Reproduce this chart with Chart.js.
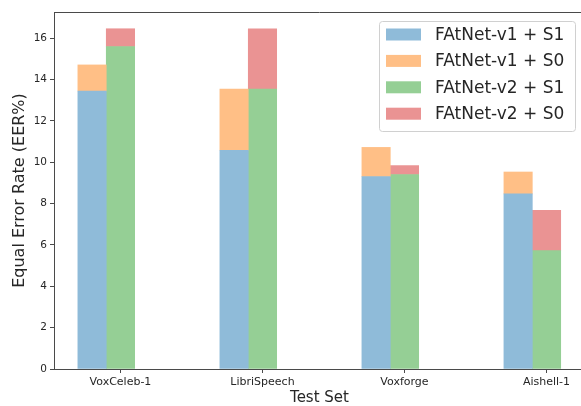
<!DOCTYPE html>
<html>
<head>
<meta charset="utf-8">
<script src="https://cdn.jsdelivr.net/npm/chart.js@4.4.1/dist/chart.umd.min.js"></script>
<style>
  html, body { margin: 0; padding: 0; background: #fff; overflow: hidden; width: 581px; height: 406px; }
  /* the axes run a few pixels past the right edge of the window */
  #wrap { width: 585px; height: 406px; }
</style>
</head>
<body>
<div id="wrap"><canvas id="c"></canvas></div>
<script>
// Test sets on the x axis
const testSets = ['VoxCeleb-1', 'LibriSpeech', 'Voxforge', 'Aishell-1'];
// Equal error rate (%) per model and setup
const eerV1S1 = [13.45, 10.58, 9.31, 8.47];
const eerV1S0 = [14.71, 13.54, 10.72, 9.53];
const eerV2S1 = [15.60, 13.54, 9.41, 5.73];
const eerV2S0 = [16.46, 16.46, 9.84, 7.68];
// y axis tick values
const yTicks = [0, 2, 4, 6, 8, 10, 12, 14, 16];

const FONT = 'DejaVu Sans';
const TEXT = '#262626';
const SPINE = '#4a4a4a';

// half-transparent tab10 colours flattened onto white
const C_V1S1 = '#8fbbd9';
const C_V1S0 = '#ffbf86';
const C_V2S1 = '#95cf95';
const C_V2S0 = '#ea9393';

// v1 bars sit one bar-width left of each tick, v2 bars are centred on it
const V1_SHIFT = -0.2;
const V2_SHIFT = 0;

const solid = (vals, shift) => vals.map((v, i) => ({ x: i + shift, y: v }));
const floating = (lo, hi, shift) => lo.map((v, i) => ({ x: i + shift, y: [v, hi[i]] }));

const barDefaults = { grouped: false, barPercentage: 1, categoryPercentage: 1, borderWidth: 0 };

const datasets = [
  { label: 'FAtNet-v1 + S1', data: solid(eerV1S1, V1_SHIFT), backgroundColor: C_V1S1, ...barDefaults },
  { label: 'FAtNet-v1 + S0', data: floating(eerV1S1, eerV1S0, V1_SHIFT), backgroundColor: C_V1S0, ...barDefaults },
  { label: 'FAtNet-v2 + S1', data: solid(eerV2S1, V2_SHIFT), backgroundColor: C_V2S1, ...barDefaults },
  { label: 'FAtNet-v2 + S0', data: floating(eerV2S1, eerV2S0, V2_SHIFT), backgroundColor: C_V2S0, ...barDefaults }
];

// Top spine of the axes frame
const topSpine = {
  id: 'topSpine',
  afterDraw(chart) {
    const { ctx, chartArea: a } = chart;
    ctx.save();
    ctx.strokeStyle = SPINE;
    ctx.lineWidth = 1;
    ctx.beginPath();
    ctx.moveTo(a.left, Math.round(a.top) + 0.5);
    ctx.lineTo(a.right, Math.round(a.top) + 0.5);
    ctx.stroke();
    ctx.restore();
  }
};

// Framed legend in the upper right part of the plot
const boxedLegend = {
  id: 'boxedLegend',
  afterDraw(chart) {
    const { ctx, chartArea: a } = chart;
    const w = 196, h = 110;
    const x0 = a.left + 325, y0 = a.top + 9;
    ctx.save();
    ctx.fillStyle = 'rgba(255,255,255,0.8)';
    ctx.strokeStyle = '#d0d0d0';
    ctx.lineWidth = 1;
    ctx.beginPath();
    ctx.roundRect(x0 + 0.5, y0 + 0.5, w, h, 3);
    ctx.fill();
    ctx.stroke();
    ctx.font = '17px "' + FONT + '"';
    ctx.textBaseline = 'middle';
    ctx.textAlign = 'left';
    chart.data.datasets.forEach((ds, i) => {
      const cy = y0 + 13.5 + i * 26.4;
      ctx.fillStyle = ds.backgroundColor;
      ctx.fillRect(x0 + 7, cy - 6, 35, 12);
      ctx.fillStyle = TEXT;
      ctx.fillText(ds.label, x0 + 56, cy + 1);
    });
    ctx.restore();
  }
};

new Chart(document.getElementById('c'), {
  type: 'bar',
  data: { datasets },
  options: {
    responsive: true,
    maintainAspectRatio: false,
    animation: false,
    layout: { padding: { top: 12, left: 0, right: 0, bottom: 0 } },
    plugins: { legend: { display: false }, tooltip: { enabled: false } },
    scales: {
      x: {
        type: 'linear',
        offset: false,
        min: -0.468,
        max: 3.271,
        afterBuildTicks: s => { s.ticks = testSets.map((_, i) => ({ value: i })); },
        afterFit: s => { s.height = 37; },
        ticks: {
          autoSkip: false,
          maxRotation: 0,
          padding: 3,
          color: TEXT,
          font: { family: FONT, size: 11 },
          callback: v => testSets[v]
        },
        grid: { display: true, offset: false, drawOnChartArea: false, tickLength: 4, color: SPINE, tickWidth: 1 },
        border: { display: true, color: SPINE, width: 1 },
        title: {
          display: true,
          text: 'Test Set',
          color: TEXT,
          font: { family: FONT, size: 15, lineHeight: 1 },
          padding: { top: 0, bottom: 0 }
        }
      },
      y: {
        min: 0,
        max: 17.27,
        afterBuildTicks: s => { s.ticks = yTicks.map(v => ({ value: v })); },
        afterFit: s => { s.width = 54; },
        ticks: {
          padding: 3,
          color: TEXT,
          font: { family: FONT, size: 10.5 }
        },
        grid: { display: true, drawOnChartArea: false, tickLength: 4, color: SPINE, tickWidth: 1 },
        border: { display: true, color: SPINE, width: 1 },
        title: {
          display: true,
          text: 'Equal Error Rate (EER%)',
          color: TEXT,
          font: { family: FONT, size: 16, lineHeight: 1.2 },
          padding: { top: 10, bottom: 0 }
        }
      }
    }
  },
  plugins: [topSpine, boxedLegend]
});
</script>
</body>
</html>
